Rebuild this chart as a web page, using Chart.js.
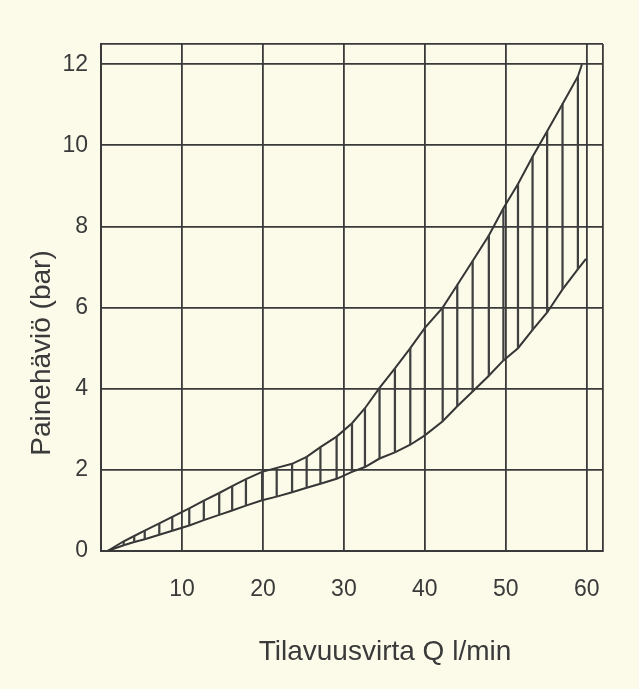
<!DOCTYPE html>
<html>
<head>
<meta charset="utf-8">
<script src="https://cdn.jsdelivr.net/npm/chart.js"></script>
<style>
  html, body { margin: 0; padding: 0; background: #fcfbea; }
  canvas { display: block; }
</style>
</head>
<body>
<canvas id="painehavio" width="639" height="689"></canvas>
<script>
// values
const flowQ = [0.8, 2.8, 4.1, 5.4, 7.2, 8.8, 10.9, 12.7, 14.6, 16.2, 17.9, 19.9, 21.7, 23.6, 25.4, 27.1,
  29.1, 31.0, 32.6, 34.4, 36.3, 38.2, 40.0, 42.2, 44.0, 45.9, 47.9, 49.7, 51.5, 53.3, 55.1, 57.0, 58.9];
const upperLoss = [0, 0.24, 0.37, 0.5, 0.68, 0.84, 1.05, 1.24, 1.43, 1.6, 1.77, 1.95, 2.05, 2.15, 2.32, 2.56,
  2.82, 3.15, 3.52, 4.02, 4.5, 5.0, 5.5, 6.0, 6.56, 7.15, 7.78, 8.45, 9.05, 9.72, 10.35, 11.02, 11.7];
const lowerLoss = [0, 0.14, 0.22, 0.29, 0.4, 0.5, 0.63, 0.76, 0.89, 1.0, 1.12, 1.25, 1.34, 1.45, 1.56, 1.66,
  1.78, 1.95, 2.07, 2.28, 2.43, 2.62, 2.85, 3.2, 3.57, 3.93, 4.32, 4.7, 5.0, 5.45, 5.88, 6.45, 6.95];
const upperEnd = [59.4, 12.0];
const lowerEnd = [59.9, 7.2];

const xTicks = [10, 20, 30, 40, 50, 60];
const yTicks = [0, 2, 4, 6, 8, 10, 12];
const xMax = 62;
const yMax = 12.5;
const xTitle = 'Tilavuusvirta Q l/min';
const yTitle = 'Painehäviö (bar)';

const ink = '#3a3a3a';
const fontFamily = '"Liberation Sans", Arial, Helvetica, sans-serif';

const upperPts = flowQ.map((q, i) => ({ x: q, y: upperLoss[i] }));
upperPts.push({ x: upperEnd[0], y: upperEnd[1] });
const lowerPts = flowQ.map((q, i) => ({ x: q, y: lowerLoss[i] }));
lowerPts.push({ x: lowerEnd[0], y: lowerEnd[1] });
const hatch = flowQ.slice(1).map((q, i) => ({ x: q, y: [lowerLoss[i + 1], upperLoss[i + 1]] }));

// paper colour + the two axis titles placed like in the scan
const paper = {
  id: 'paper',
  beforeDraw(chart) {
    const ctx = chart.ctx;
    ctx.save();
    ctx.fillStyle = '#fcfbea';
    ctx.fillRect(0, 0, chart.width, chart.height);
    ctx.restore();
  },
  afterDraw(chart) {
    const { ctx, chartArea } = chart;
    ctx.save();
    ctx.fillStyle = ink;
    ctx.font = '28px ' + fontFamily;
    ctx.textAlign = 'center';
    ctx.textBaseline = 'middle';
    ctx.fillText(xTitle, chartArea.left + 284, chartArea.bottom + 101);
    ctx.translate(chartArea.left - 59, chartArea.top + 309);
    ctx.rotate(-Math.PI / 2);
    ctx.fillText(yTitle, 0, 0);
    ctx.restore();
  }
};

new Chart('painehavio', {
  type: 'line',
  data: {
    datasets: [
      {
        type: 'bar',
        data: hatch,
        backgroundColor: '#404040',
        borderWidth: 0,
        barThickness: 1.6,
        grouped: false,
      },
      {
        data: upperPts,
        borderColor: '#353535',
        borderWidth: 2,
        pointRadius: 0,
        tension: 0,
      },
      {
        data: lowerPts,
        borderColor: '#353535',
        borderWidth: 2,
        pointRadius: 0,
        tension: 0,
      },
    ],
  },
  options: {
    responsive: false,
    animation: false,
    layout: { padding: { left: 0, right: 36, top: 44, bottom: 0 } },
    plugins: { legend: { display: false }, tooltip: { enabled: false } },
    scales: {
      x: {
        type: 'linear',
        min: 0,
        max: xMax,
        offset: false,
        afterFit: (s) => { s.height = 138; },
        // grid at 0, every tick and the frame edge
        afterBuildTicks: (s) => { s.ticks = [0, ...xTicks, xMax].map((v) => ({ value: v })); },
        border: { color: ink, width: 2 },
        grid: { color: ink, lineWidth: 1.8, drawTicks: false, offset: false },
        ticks: {
          autoSkip: false,
          maxRotation: 0,
          padding: 25,
          color: ink,
          font: { family: fontFamily, size: 23 },
          callback: (v) => (xTicks.includes(v) ? v : ''),
        },
      },
      y: {
        min: 0,
        max: yMax,
        afterFit: (s) => { s.width = 101; },
        afterBuildTicks: (s) => { s.ticks = [...yTicks, yMax].map((v) => ({ value: v })); },
        border: { color: ink, width: 2 },
        grid: { color: ink, lineWidth: 1.8, drawTicks: false },
        ticks: {
          autoSkip: false,
          padding: 13,
          color: ink,
          font: { family: fontFamily, size: 23 },
          callback: (v) => (yTicks.includes(v) ? v : ''),
        },
      },
    },
  },
  plugins: [paper],
});
</script>
</body>
</html>
